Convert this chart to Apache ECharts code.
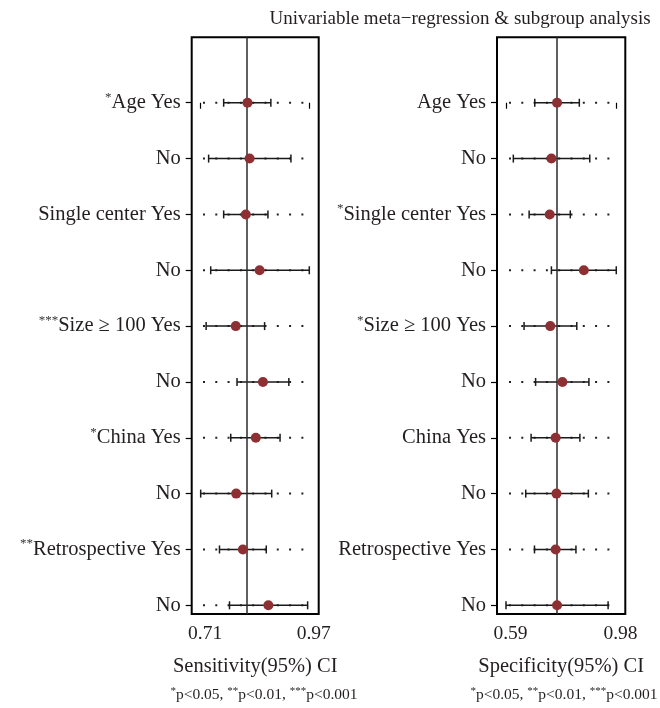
<!DOCTYPE html>
<html>
<head>
<meta charset="utf-8">
<script src="https://cdn.jsdelivr.net/npm/echarts@6/dist/echarts.min.js"></script>
<style>
  html, body { margin: 0; padding: 0; background: #fff; }
  #chart { width: 660px; height: 708px; }
</style>
</head>
<body>
<div id="chart"></div>
<script>
// 行标签（从上到下）
const rowLabels = ['Age Yes', 'No', 'Single center Yes', 'No', 'Size ≥ 100 Yes', 'No', 'China Yes', 'No', 'Retrospective Yes', 'No'];
const sensStars = ['*', '', '', '', '***', '', '*', '', '**', ''];
const specStars = ['', '', '*', '', '*', '', '', '', '', ''];

// Sensitivity
const sensEst  = [0.822, 0.827, 0.818, 0.851, 0.794, 0.859, 0.842, 0.795, 0.811, 0.872];
const sensLow  = [0.765, 0.729, 0.765, 0.734, 0.723, 0.797, 0.782, 0.710, 0.755, 0.779];
const sensHigh = [0.878, 0.926, 0.871, 0.970, 0.863, 0.921, 0.900, 0.880, 0.867, 0.966];
const sensRef = 0.823;
const sensTicks = [0.71, 0.97];

// Specificity
const specEst  = [0.771, 0.751, 0.745, 0.866, 0.747, 0.790, 0.766, 0.769, 0.766, 0.771];
const specLow  = [0.692, 0.616, 0.672, 0.751, 0.654, 0.695, 0.679, 0.660, 0.691, 0.590];
const specHigh = [0.850, 0.887, 0.818, 0.981, 0.841, 0.884, 0.852, 0.882, 0.838, 0.952];
const specRef = 0.766;
const specTicks = [0.59, 0.98];

const rowIdx = rowLabels.map((_, i) => i);
const FONT = '"Liberation Serif", "DejaVu Serif", serif';
const TXT = '#231f20';
const DOT_RED = '#8e2f33';

const chart = echarts.init(document.getElementById('chart'));

function labelFmt(stars) {
  return function (v) {
    const i = Math.round(v);
    const s = stars[i];
    return (s ? '{s|' + s + '}' : '') + '{t|' + rowLabels[i] + '}';
  };
}

function yAxis(gridIndex, stars) {
  return {
    type: 'value',
    gridIndex: gridIndex,
    inverse: true,
    min: -1.172,
    max: 9.156,
    axisLine: { show: false },
    splitLine: { show: false },
    axisTick: { show: true, customValues: rowIdx, length: 6, lineStyle: { color: '#000', width: 1.2 } },
    axisLabel: {
      customValues: rowIdx,
      margin: 11,
      formatter: labelFmt(stars),
      rich: {
        s: { fontFamily: FONT, fontSize: 13, color: '#333', verticalAlign: 'top', lineHeight: 24 },
        t: { fontFamily: FONT, fontSize: 20.5, color: TXT, lineHeight: 24 }
      }
    }
  };
}

function xAxis(gridIndex, min, max, ticks, name) {
  return {
    type: 'value',
    gridIndex: gridIndex,
    min: min,
    max: max,
    axisLine: { show: false },
    splitLine: { show: false },
    axisTick: { show: true, customValues: ticks, length: 6, lineStyle: { color: '#000', width: 1.2 } },
    axisLabel: { customValues: ticks, margin: 10, fontFamily: FONT, fontSize: 19.5, color: TXT,
      padding: [0, 0, 0, 9], formatter: v => v.toFixed(2) },
    name: name,
    nameLocation: 'middle',
    nameGap: 42,
    nameTextStyle: { fontFamily: FONT, fontSize: 20.5, color: TXT }
  };
}

// 虚线点（整行）
function dotSeries(idx, from, to) {
  return {
    type: 'custom',
    xAxisIndex: idx, yAxisIndex: idx,
    silent: true,
    data: rowIdx.map(i => [i]),
    renderItem: function (params, api) {
      const a = api.coord([from, api.value(0)]);
      const b = api.coord([to, api.value(0)]);
      return {
        type: 'line',
        shape: { x1: a[0], y1: a[1], x2: b[0], y2: b[1] },
        style: { stroke: '#222', lineWidth: 2, lineDash: [2, 10.3] }
      };
    }
  };
}

// 置信区间
function ciSeries(idx, low, high) {
  return {
    type: 'custom',
    xAxisIndex: idx, yAxisIndex: idx,
    silent: true,
    data: rowIdx.map(i => [i, low[i], high[i]]),
    renderItem: function (params, api) {
      const a = api.coord([api.value(1), api.value(0)]);
      const b = api.coord([api.value(2), api.value(0)]);
      const h = 4;
      const st = { stroke: '#1a1a1a', lineWidth: 1.5 };
      return {
        type: 'group',
        children: [
          { type: 'line', shape: { x1: a[0], y1: a[1], x2: b[0], y2: b[1] }, style: st },
          { type: 'line', shape: { x1: a[0], y1: a[1] - h, x2: a[0], y2: a[1] + h }, style: st },
          { type: 'line', shape: { x1: b[0], y1: b[1] - h, x2: b[0], y2: b[1] + h }, style: st }
        ]
      };
    }
  };
}

function estSeries(idx, est, ref) {
  return {
    type: 'scatter',
    xAxisIndex: idx, yAxisIndex: idx,
    symbol: 'circle',
    symbolSize: 10,
    itemStyle: { color: DOT_RED, opacity: 1 },
    data: rowIdx.map(i => [est[i], i]),
    z: 5,
    markLine: {
      silent: true,
      symbol: 'none',
      label: { show: false },
      lineStyle: { color: '#2b2b2b', width: 1.5, type: 'solid' },
      data: [{ xAxis: ref }]
    }
  };
}

const footRich = {
  s: { fontFamily: FONT, fontSize: 11, fontWeight: 'normal', color: TXT, verticalAlign: 'top', lineHeight: 18 },
  t: { fontFamily: FONT, fontSize: 15.5, fontWeight: 'normal', color: TXT, lineHeight: 18 }
};
const footText = '{s|*}{t|p<0.05, }{s|**}{t|p<0.01, }{s|***}{t|p<0.001}';

const option = {
  backgroundColor: '#fff',
  animation: false,
  title: [
    { text: 'Univariable meta\u2212regression & subgroup analysis', left: 455, top: 5, textAlign: 'center',
      textStyle: { fontFamily: FONT, fontSize: 19, fontWeight: 'normal', color: TXT } },
    { text: footText, left: 259, top: 681, textAlign: 'center', textStyle: { fontWeight: 'normal', rich: footRich } },
    { text: footText, left: 559, top: 681, textAlign: 'center', textStyle: { fontWeight: 'normal', rich: footRich } }
  ],
  grid: [
    { left: 191.7, top: 37.3, width: 127, height: 576.7, show: true, borderColor: '#000', borderWidth: 2, backgroundColor: 'transparent' },
    { left: 497, top: 37.3, width: 128.3, height: 576.7, show: true, borderColor: '#000', borderWidth: 2, backgroundColor: 'transparent' }
  ],
  xAxis: [
    xAxis(0, 0.6885, 0.9925, sensTicks, 'Sensitivity(95%) CI'),
    xAxis(1, 0.5581, 1.013, specTicks, 'Specificity(95%) CI')
  ],
  yAxis: [yAxis(0, sensStars), yAxis(1, specStars)],
  series: [
    dotSeries(0, 0.7155, 0.9735),
    ciSeries(0, sensLow, sensHigh),
    estSeries(0, sensEst, sensRef),
    dotSeries(1, 0.6006, 0.986),
    ciSeries(1, specLow, specHigh),
    estSeries(1, specEst, specRef)
  ]
};

chart.setOption(option);
</script>
</body>
</html>
